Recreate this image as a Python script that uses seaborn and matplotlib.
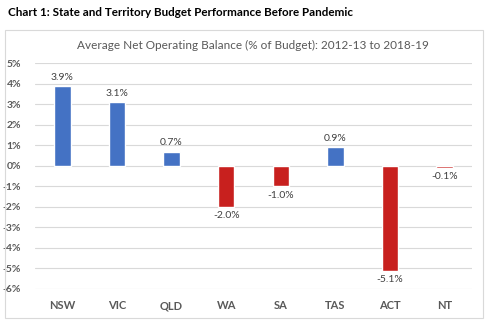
import matplotlib
matplotlib.use("Agg")
import matplotlib.pyplot as plt
import seaborn as sns
import pandas as pd
from matplotlib.patches import Rectangle

categories = ["NSW", "VIC", "QLD", "WA", "SA", "TAS", "ACT", "NT"]
values = [3.9, 3.1, 0.7, -2.0, -1.0, 0.9, -5.1, -0.1]
yticks = [5, 4, 3, 2, 1, 0, -1, -2, -3, -4, -5, -6]

BLUE = "#4472C4"
RED = "#C8201E"

sns.set_theme(style="white")
plt.rcParams["font.family"] = ["Lato", "DejaVu Sans"]

df = pd.DataFrame({"state": categories, "value": values})
palette = [BLUE if v >= 0 else RED for v in values]

fig = plt.figure(figsize=(4.89, 3.21), dpi=100)
fig.patch.set_facecolor("white")
ax = fig.add_axes([35/489, 1-289/321, (472-35)/489, (289-63.3)/321])

sns.barplot(data=df, x="state", y="value", hue="state", palette=palette,
            legend=False, width=0.3, ax=ax, saturation=1)

for c in ax.containers:
    ax.bar_label(c, fmt=lambda v: f"{v:.1f}%", padding=3, fontsize=7.5, color="#404040")

ax.set_ylim(-6, 5)
ax.set_yticks(yticks)
ax.set_yticklabels([f"{t}%" for t in yticks])
ax.yaxis.grid(True, color="#D9D9D9", linewidth=0.8)
ax.set_axisbelow(True)
for s in ax.spines.values():
    s.set_visible(False)
ax.tick_params(axis="y", length=0, pad=10, labelsize=7.5, labelcolor="#595959")
ax.tick_params(axis="x", length=0, pad=8, labelsize=8, labelcolor="#595959")
for lbl in ax.get_xticklabels():
    lbl.set_fontweight("bold")
for lbl in ax.get_yticklabels():
    lbl.set_fontweight("bold")
ax.set_xlabel("")
ax.set_ylabel("")
ax.set_xlim(-0.5, len(categories) - 0.5)

fig.text(8/489, 1-13/321, "Chart 1: State and Territory Budget Performance Before Pandemic",
         fontsize=8.4, fontweight="bold", color="black", va="center", ha="left")
fig.text(253/489, 1-45/321, "Average Net Operating Balance (% of Budget): 2012-13 to 2018-19",
         fontsize=8.5, color="#595959", va="center", ha="center")
fig.patches.append(Rectangle((5/489, 1-318/321), 478/489, 288/321, transform=fig.transFigure,
                             fill=False, edgecolor="#D9D9D9", linewidth=0.8))

fig.savefig("out.png", dpi=100)
